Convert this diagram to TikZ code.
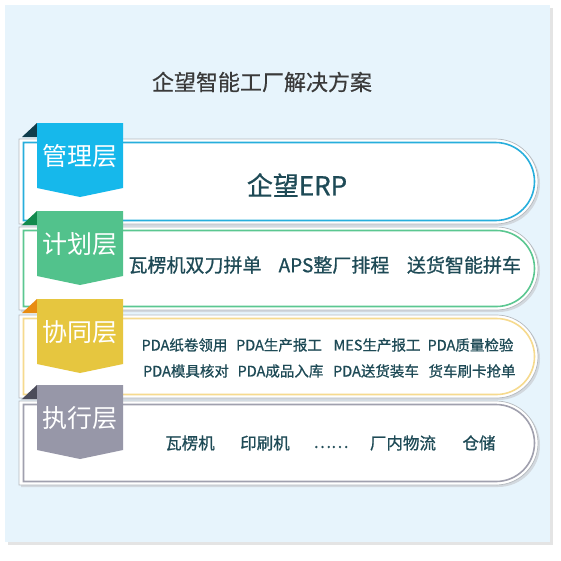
\documentclass[tikz,border=0pt]{standalone}
\usepackage{fontspec}
\setmainfont{Noto Sans CJK SC}
\newfontfamily\medfont{Noto Sans CJK SC}[FakeBold=0.8]
\newfontfamily\semifont{Noto Sans CJK SC}[FakeBold=0.4]
\definecolor{panel}{HTML}{E7F4FC}
\definecolor{panelshadow}{HTML}{E4E4E4}
\definecolor{txt}{HTML}{1E4A56}
\definecolor{titlec}{HTML}{3A3A3A}
\definecolor{edgec}{HTML}{B4B9BE}
\definecolor{shadowc}{HTML}{D2D8DE}
\definecolor{bBorder}{HTML}{27AEDC}
\definecolor{bTag}{HTML}{16B8EB}
\definecolor{bFold}{HTML}{0F3D4C}
\definecolor{gBorder}{HTML}{5BC791}
\definecolor{gTag}{HTML}{52C28C}
\definecolor{gFold}{HTML}{128A4E}
\definecolor{yBorder}{HTML}{F6DA8E}
\definecolor{yTag}{HTML}{E6C63F}
\definecolor{yFold}{HTML}{E88C12}
\definecolor{aBorder}{HTML}{A0A0AE}
\definecolor{aTag}{HTML}{9797A8}
\definecolor{aFold}{HTML}{4C4C5A}
\tikzset{
  tagtext/.style={text=white,font=\fontsize{25}{25}\selectfont,inner sep=0pt},
  erptext/.style={text=txt,font=\medfont\fontsize{26}{26}\selectfont,inner sep=0pt},
  plantext/.style={text=txt,font=\medfont\fontsize{19}{19}\selectfont,inner sep=0pt},
  cotext/.style={text=txt,font=\medfont\fontsize{14.5}{14.5}\selectfont,inner sep=0pt},
  exetext/.style={text=txt,font=\medfont\fontsize{16.5}{16.5}\selectfont,inner sep=0pt},
}
\newcommand\drawlayer[7]{%
  \pgfmathsetmacro\R{(#2-#1)/2}%
  \pgfmathsetmacro\Ri{\R-3.5}%
  \fill[shadowc] (21,{-#1-2}) -- ({540-\R},{-#1-2}) arc[start angle=90,end angle=-90,radius=\R] -- (21,{-#2-2}) -- cycle;
  \filldraw[fill=white,draw=edgec,line width=0.7pt] (19,{-#1}) -- ({538-\R},{-#1}) arc[start angle=90,end angle=-90,radius=\R] -- (19,{-#2}) -- cycle;
  \draw[#3,line width=1.6pt] (23.5,{-#1-3.5}) -- ({538-\R},{-#1-3.5}) arc[start angle=90,end angle=-90,radius=\Ri] -- (23.5,{-#2+3.5}) -- cycle;
  \fill[#5] (37,{-#1+16}) -- (37,{-#1+2}) -- (22,{-#1+2}) -- cycle;
  \fill[#4] (37,{-#1+16}) -- (123,{-#1+16}) -- (123,{-#1-49}) -- (80,{-#1-58}) -- (37,{-#1-49}) -- cycle;
  \node[tagtext] (#7) at (80,{-#1-17}) {#6};
}
\begin{document}
\begin{tikzpicture}[x=1pt,y=1pt]
\useasboundingbox (0,0) rectangle (561,-560);
\fill[white] (0,0) rectangle (561,-560);
\fill[panelshadow] (8,-8) rectangle (553,-545);
\fill[panel] (5,-5) rectangle (550,-542);
\node[text=titlec,font=\semifont\fontsize{22}{22}\selectfont,inner sep=0pt] (title) at (262,-82) {企望智能工厂解决方案};
\drawlayer{139}{224}{bBorder}{bTag}{bFold}{管理层}{mgmt}
\drawlayer{227}{310}{gBorder}{gTag}{gFold}{计划层}{plan}
\drawlayer{315}{398}{yBorder}{yTag}{yFold}{协同层}{coop}
\drawlayer{401}{485}{aBorder}{aTag}{aFold}{执行层}{exe}
\node[erptext] (erp) at (297,-185) {企望ERP};
\node[plantext] (p1) at (195,-265) {瓦楞机双刀拼单};
\node[plantext] (p2) at (334,-265) {APS整厂排程};
\node[plantext] (p3) at (464,-265) {送货智能拼车};
\node[cotext] (c1) at (184.5,-345) {PDA纸卷领用};
\node[cotext] (c2) at (279,-345) {PDA生产报工};
\node[cotext] (c3) at (377,-345) {MES生产报工};
\node[cotext] (c4) at (470.5,-345) {PDA质量检验};
\node[cotext] (c5) at (186,-371) {PDA模具核对};
\node[cotext] (c6) at (280.5,-371) {PDA成品入库};
\node[cotext] (c7) at (376,-371) {PDA送货装车};
\node[cotext] (c8) at (472,-371) {货车刷卡抢单};
\node[exetext] (e1) at (190,-443) {瓦楞机};
\node[exetext] (e2) at (265,-443) {印刷机};
\node[exetext] (e3) at (331,-447) {……};
\node[exetext] (e4) at (403,-443) {厂内物流};
\node[exetext] (e5) at (479,-443) {仓储};
\end{tikzpicture}
\end{document}
